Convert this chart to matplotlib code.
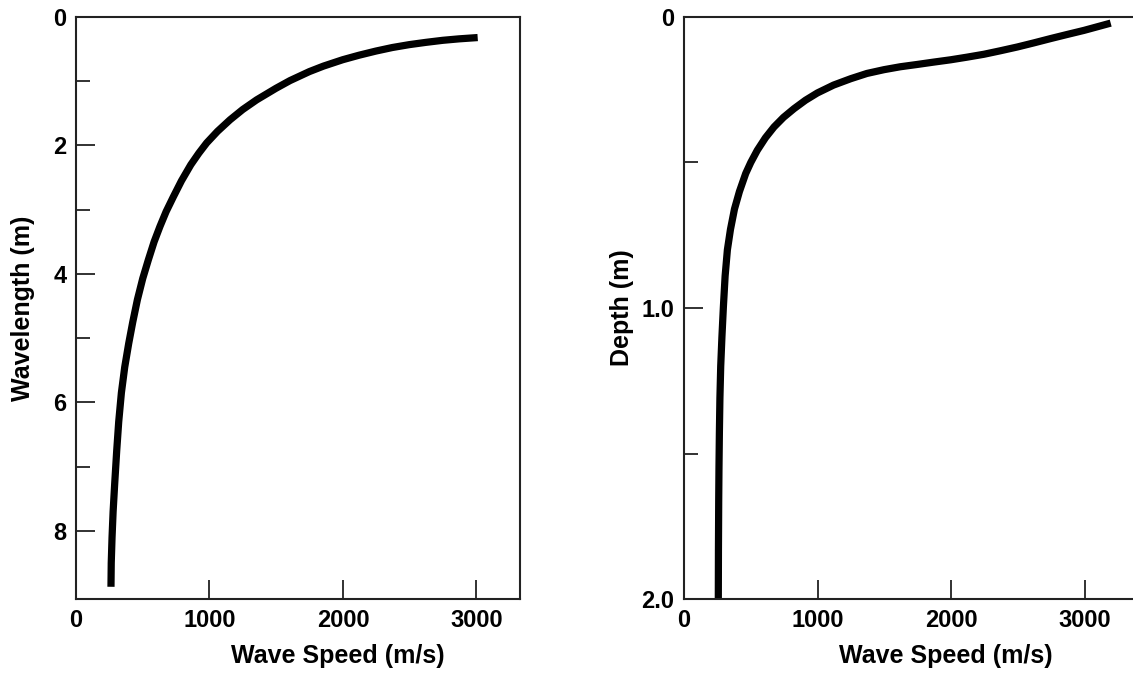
import matplotlib
matplotlib.use("Agg")
import matplotlib.pyplot as plt
from matplotlib.transforms import blended_transform_factory

plt.rcParams['font.family'] = ['Liberation Sans', 'DejaVu Sans']
plt.rcParams['font.weight'] = 'bold'

# left panel: wave speed vs wavelength
speed_left = [3009, 2870, 2747, 2620, 2497, 2370, 2247, 2120, 1998, 1853,
              1748, 1603, 1498, 1353, 1249, 1154, 1060, 979, 920, 860, 790, 729,
              675, 629, 585, 542, 500, 460, 425, 395, 365, 340, 320, 305, 290,
              278, 270, 264, 262]
wavelength = [0.32, 0.34, 0.363, 0.395, 0.43, 0.475, 0.53, 0.595, 0.665, 0.765,
              0.85, 0.99, 1.11, 1.29, 1.44, 1.6, 1.78, 1.96, 2.12, 2.3, 2.55, 2.8,
              3.03, 3.26, 3.5, 3.78, 4.07, 4.4, 4.75, 5.08, 5.45, 5.85, 6.3, 6.75, 7.26,
              7.7, 8.1, 8.5, 8.87]

# right panel: wave speed vs depth
speed_right = [3196, 3100, 2996, 2870, 2747, 2620, 2497, 2370, 2247, 2120, 1998,
               1870, 1748, 1620, 1498, 1370, 1249, 1120, 999, 910, 824, 745, 674,
               610, 549, 500, 462, 415, 378, 348, 325, 308, 295, 284, 275, 269,
               265, 262, 260, 258, 257]
depth = [0.021, 0.033, 0.046, 0.06, 0.074, 0.089, 0.103, 0.116, 0.128, 0.138, 0.147,
         0.155, 0.163, 0.171, 0.181, 0.194, 0.212, 0.234, 0.261, 0.286, 0.315, 0.345, 0.378,
         0.415, 0.458, 0.50, 0.538, 0.60, 0.66, 0.73, 0.80, 0.89, 0.996, 1.10, 1.20, 1.31,
         1.43, 1.55, 1.66, 1.83, 2.0]

x_ticks = [0, 1000, 2000, 3000]
x_ticklabels = ['0', '1000', '2000', '3000']
left_major = [0, 2, 4, 6, 8]
left_minor = [1, 3, 5, 7]
right_major = [0, 1.0, 2.0]
right_major_labels = ['0', '1.0', '2.0']
right_minor = [0.5, 1.5]

W, H = 1133, 673
fig = plt.figure(figsize=(W / 100, H / 100), dpi=100)

ax1 = fig.add_axes([76 / W, 74 / H, 444 / W, 582 / H])
ax2 = fig.add_axes([684 / W, 74 / H, 449 / W, 582 / H])

ax1.plot(speed_left, wavelength, color='black', lw=5.2, solid_capstyle='butt',
         solid_joinstyle='round')
ax2.plot(speed_right, depth, color='black', lw=5.2, solid_capstyle='butt',
         solid_joinstyle='round')

ax1.set_xlim(0, 3326)
ax1.set_ylim(9.06, 0)
ax2.set_xlim(0, 3363)
ax2.set_ylim(2.0, 0)

for ax in (ax1, ax2):
    ax.set_xticks(x_ticks)
    ax.set_xticklabels(x_ticklabels)
    ax.tick_params(axis='both', which='major', direction='in', length=13.5,
                   width=1.3, labelsize=17, pad=7, color='#222222')
    ax.tick_params(axis='both', which='minor', direction='in', length=10,
                   width=1.3, color='#222222')
    for s in ax.spines.values():
        s.set_linewidth(1.5)
        s.set_color('#222222')
    ax.set_xlabel('Wave Speed (m/s)', fontsize=18, fontweight='bold')
    trans = blended_transform_factory(ax.transData, ax.transAxes)
    ax.xaxis.set_label_coords(1960, -0.078, transform=trans)

ax1.set_yticks(left_major)
ax1.set_yticklabels([str(v) for v in left_major])
ax1.set_yticks(left_minor, minor=True)
ax1.set_ylabel('Wavelength (m)', fontsize=18, fontweight='bold')
ax1.yaxis.set_label_coords(-0.092, 0.5)

ax2.set_yticks(right_major)
ax2.set_yticklabels(right_major_labels)
ax2.set_yticks(right_minor, minor=True)
ax2.set_ylabel('Depth (m)', fontsize=18, fontweight='bold')
ax2.yaxis.set_label_coords(-0.111, 0.5)
ax2.spines['right'].set_visible(False)

fig.savefig('out.png', dpi=100)
